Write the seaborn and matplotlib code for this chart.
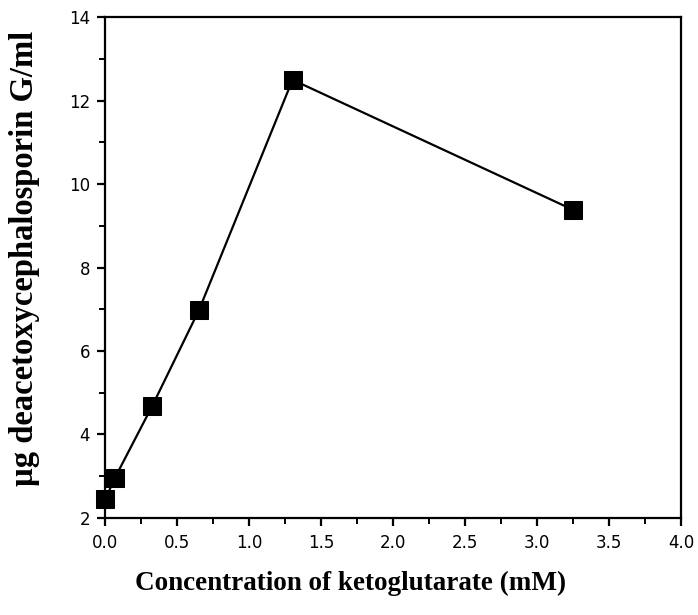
import matplotlib
matplotlib.use("Agg")
import matplotlib.pyplot as plt
from matplotlib.ticker import MultipleLocator
import seaborn as sns
import pandas as pd

# Deacetoxycephalosporin G yield versus ketoglutarate concentration
concentration_mM = [0.0, 0.065, 0.325, 0.65, 1.3, 3.25]
dac_g_ug_per_ml = [2.45, 2.95, 4.68, 6.98, 12.5, 9.38]

x_ticks = [0.0, 0.5, 1.0, 1.5, 2.0, 2.5, 3.0, 3.5, 4.0]
x_tick_labels = ["0.0", "0.5", "1.0", "1.5", "2.0", "2.5", "3.0", "3.5", "4.0"]
y_ticks = [2, 4, 6, 8, 10, 12, 14]
y_tick_labels = ["2", "4", "6", "8", "10", "12", "14"]

df = pd.DataFrame({"conc": concentration_mM, "dac": dac_g_ug_per_ml})

sns.set_style("ticks")
plt.rcParams["font.family"] = ["DejaVu Sans"]
plt.rcParams["text.color"] = "black"
plt.rcParams["axes.labelcolor"] = "black"

fig = plt.figure(figsize=(6.98, 6.15), dpi=100)
ax = fig.add_axes([0.151, 0.158, 0.825, 0.814])

sns.lineplot(data=df, x="conc", y="dac", ax=ax, color="black", linewidth=1.6,
             marker="s", markersize=13, markeredgecolor="black",
             markerfacecolor="black", sort=False)
for line in ax.lines:
    line.set_clip_on(False)
    line.set_zorder(5)

ax.set_xlim(0, 4)
ax.set_ylim(2, 14)
ax.set_xticks(x_ticks)
ax.set_xticklabels(x_tick_labels)
ax.set_yticks(y_ticks)
ax.set_yticklabels(y_tick_labels)
ax.xaxis.set_minor_locator(MultipleLocator(0.25))
ax.yaxis.set_minor_locator(MultipleLocator(1))

for side in ["top", "right", "left", "bottom"]:
    ax.spines[side].set_visible(True)
    ax.spines[side].set_linewidth(1.6)
    ax.spines[side].set_color("black")

ax.tick_params(axis="x", which="major", pad=6)
ax.tick_params(axis="y", which="major", pad=5)
ax.tick_params(which="major", direction="out", length=6, width=1.6,
               labelsize=12, colors="black", top=False, right=False)
ax.tick_params(which="minor", direction="out", length=4, width=1.4,
               colors="black", top=False, right=False)

ax.set_xlabel("Concentration of ketoglutarate (mM)", fontsize=19.5,
              fontweight="bold", color="black",
              family=["Liberation Serif", "DejaVu Serif"])
ax.set_ylabel("\u00b5g deacetoxycephalosporin G/ml", fontsize=23.5,
              fontweight="bold", color="black",
              family=["Liberation Serif", "DejaVu Serif"])
ax.xaxis.set_label_coords(0.425, -0.105)
ax.yaxis.set_label_coords(-0.114, 0.518)

fig.savefig("out.png", dpi=100, facecolor="white")
